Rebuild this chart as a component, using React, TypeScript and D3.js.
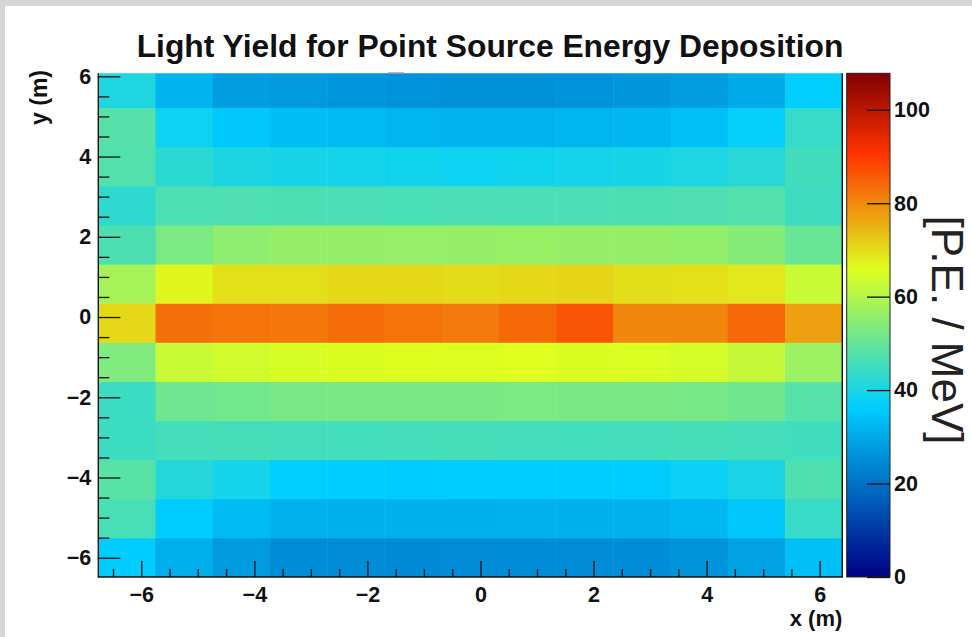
import { useEffect, useRef } from 'react'
import * as d3 from 'd3'

// bin layout of the 2D histogram (metres)
const xFirstEdge = -6.76
const xBinWidth = 1.0122
const yFirstEdge = -6.48
const yBinWidth = 0.975
const xRange = [-6.76, 6.40]
const yRange = [-6.48, 6.075]
const zRange = [0, 107.8]

// light yield per bin [P.E./MeV], rows listed from bottom (y ~ -6 m) to top (y ~ 5.7 m)
const lyRow12 = [40.7, 31.9, 28.0, 27.2, 26.6, 25.9, 25.6, 25.6, 26.0, 26.8, 27.8, 30.3, 36.9]
const lyRow11 = [47.8, 38.4, 35.4, 33.8, 32.9, 32.2, 31.9, 31.9, 32.2, 32.4, 34.0, 37.2, 43.7]
const lyRow10 = [47.4, 42.2, 40.5, 39.7, 39.3, 38.8, 38.5, 38.8, 39.3, 39.8, 40.6, 41.9, 45.3]
const lyRow9 = [42.8, 46.7, 46.9, 46.6, 46.5, 46.4, 46.5, 46.5, 46.5, 46.6, 46.9, 47.4, 44.8]
const lyRow8 = [46.6, 52.9, 55.4, 56.3, 56.3, 56.4, 56.3, 56.6, 56.3, 56.3, 56.0, 54.2, 50.3]
const lyRow7 = [58.4, 67.0, 69.5, 69.6, 70.5, 70.5, 70.1, 70.5, 71.0, 69.8, 69.5, 68.6, 62.9]
const lyRow6 = [70.5, 83.1, 82.7, 82.2, 83.6, 82.7, 81.9, 84.1, 86.5, 80.2, 80.2, 84.1, 77.3]
const lyRow5 = [53.4, 62.9, 63.9, 65.0, 65.4, 65.6, 65.5, 65.7, 65.4, 65.3, 64.5, 62.3, 57.1]
const lyRow4 = [44.5, 51.1, 51.6, 52.4, 52.6, 52.7, 52.6, 52.8, 52.6, 52.5, 52.3, 51.3, 47.9]
const lyRow3 = [44.5, 45.6, 45.7, 45.6, 45.5, 45.6, 45.7, 45.6, 45.5, 45.6, 45.7, 45.6, 45.0]
const lyRow2 = [48.2, 41.6, 39.3, 36.4, 36.1, 36.0, 36.1, 36.2, 36.1, 36.3, 38.0, 40.0, 47.0]
const lyRow1 = [46.1, 36.1, 32.9, 31.4, 31.2, 31.1, 31.2, 31.3, 31.2, 31.4, 32.6, 35.4, 44.0]
const lyRow0 = [36.1, 30.8, 27.4, 25.0, 24.8, 24.7, 24.8, 24.9, 24.8, 25.0, 26.2, 28.7, 34.0]
const lyRows = [lyRow0, lyRow1, lyRow2, lyRow3, lyRow4, lyRow5, lyRow6, lyRow7, lyRow8, lyRow9, lyRow10, lyRow11, lyRow12]

const xMajorTicks = [-6, -4, -2, 0, 2, 4, 6]
const yMajorTicks = [-6, -4, -2, 0, 2, 4, 6]
const zTicks = [0, 20, 40, 60, 80, 100]

const title = 'Light Yield for Point Source Energy Deposition'
const xTitle = 'x (m)'
const yTitle = 'y (m)'
const zTitle = '[P.E. / MeV]'

// ROOT style 5-stop rainbow palette
const paletteStops = [0, 0.34, 0.61, 0.84, 1]
const paletteColors = ['rgb(0,0,130)', 'rgb(0,207,255)', 'rgb(222,255,31)', 'rgb(255,51,0)', 'rgb(130,0,0)']

const W = 972
const H = 637
const FONT = '"Liberation Sans", Arial, Helvetica, sans-serif'

const App = () => {
    const ref = useRef<SVGSVGElement>(null)

    useEffect(() => {
        const svg = d3.select(ref.current)
        svg.selectAll('*').remove()

        const left = 98.3, right = 842.3, top = 73.3, bottom = 577

        const x = d3.scaleLinear().domain(xRange).range([left, right])
        const y = d3.scaleLinear().domain(yRange).range([bottom, top])
        const z = d3.scaleLinear<string>()
            .domain(paletteStops.map(t => zRange[0] + t * (zRange[1] - zRange[0])))
            .range(paletteColors)
            .interpolate(d3.interpolateRgb)
            .clamp(true)

        svg.append('rect').attr('width', W).attr('height', H).attr('fill', '#d6d6d6')
        svg.append('rect').attr('x', 5).attr('y', 6).attr('width', W - 5).attr('height', H - 6).attr('fill', '#fff')

        const defs = svg.append('defs')
        defs.append('clipPath').attr('id', 'plot-clip')
            .append('rect').attr('x', left).attr('y', top).attr('width', right - left).attr('height', bottom - top)

        // cells
        const cells = lyRows.flatMap((row, j) => row.map((v, i) => ({ i, j, v })))
        svg.append('g').attr('clip-path', 'url(#plot-clip)')
            .selectAll('rect')
            .data(cells)
            .enter()
            .append('rect')
            .attr('x', d => x(xFirstEdge + d.i * xBinWidth))
            .attr('width', d => x(xFirstEdge + (d.i + 1) * xBinWidth) - x(xFirstEdge + d.i * xBinWidth) + 0.5)
            .attr('y', d => y(yFirstEdge + (d.j + 1) * yBinWidth))
            .attr('height', d => y(yFirstEdge + d.j * yBinWidth) - y(yFirstEdge + (d.j + 1) * yBinWidth) + 0.5)
            .attr('fill', d => z(d.v))

        // small leftover mark at the top of the frame
        svg.append('rect').attr('x', 388).attr('y', 72.3).attr('width', 16).attr('height', 1.6).attr('fill', '#9a9a9a')

        const xMinor = d3.range(-6.5, 6.5, 0.5).filter(v => !xMajorTicks.includes(v))
        const yMinor = d3.range(-6, 6.01, 0.5).filter(v => !yMajorTicks.includes(v))

        const styleAxis = (g: any) => {
            g.select('.domain').remove()
            g.selectAll('line').attr('stroke', '#111').attr('stroke-width', 1.3)
            g.selectAll('text').attr('fill', '#111').attr('font-family', FONT)
                .attr('font-weight', 'bold').attr('font-size', 21.5)
        }

        svg.append('g').attr('transform', `translate(0,${bottom})`)
            .call(d3.axisBottom(x).tickValues(xMinor).tickSize(-8).tickFormat(() => ''))
            .call(styleAxis)
        svg.append('g').attr('transform', `translate(0,${bottom})`)
            .call(d3.axisBottom(x).tickValues(xMajorTicks).tickSize(-16).tickPadding(10))
            .call(styleAxis)
        svg.append('g').attr('transform', `translate(${left},0)`)
            .call(d3.axisLeft(y).tickValues(yMinor).tickSize(-11).tickFormat(() => ''))
            .call(styleAxis)
        svg.append('g').attr('transform', `translate(${left},0)`)
            .call(d3.axisLeft(y).tickValues(yMajorTicks).tickSize(-22).tickPadding(7))
            .call(styleAxis)

        // frame lines
        svg.append('line').attr('x1', left).attr('x2', left).attr('y1', top).attr('y2', bottom + 0.7)
            .attr('stroke', '#111').attr('stroke-width', 1.4)
        svg.append('line').attr('x1', left).attr('x2', right + 0.7).attr('y1', bottom).attr('y2', bottom)
            .attr('stroke', '#111').attr('stroke-width', 1.4)
        svg.append('line').attr('x1', right).attr('x2', right).attr('y1', top).attr('y2', bottom)
            .attr('stroke', '#111').attr('stroke-width', 1.4)

        // colour bar
        const cbLeft = 846.7, cbRight = 890
        const grad = defs.append('linearGradient').attr('id', 'zgrad')
            .attr('x1', 0).attr('x2', 0).attr('y1', 1).attr('y2', 0)
        paletteStops.forEach((t, k) => {
            grad.append('stop').attr('offset', t).attr('stop-color', paletteColors[k])
        })
        svg.append('rect').attr('x', cbLeft).attr('y', top).attr('width', cbRight - cbLeft).attr('height', bottom - top)
            .attr('fill', 'url(#zgrad)').attr('stroke', '#222').attr('stroke-width', 1)

        const zAxisScale = d3.scaleLinear().domain(zRange).range([bottom, top])
        svg.append('g').attr('transform', `translate(${cbRight},0)`)
            .call(d3.axisRight(zAxisScale).tickValues(zTicks).tickSize(-23).tickPadding(4))
            .call(styleAxis)

        // titles
        svg.append('text').attr('x', 490).attr('y', 57).attr('text-anchor', 'middle')
            .attr('font-family', FONT).attr('font-weight', 'bold').attr('font-size', 31.8).attr('fill', '#111')
            .text(title)
        svg.append('text').attr('x', right).attr('y', 626).attr('text-anchor', 'end')
            .attr('font-family', FONT).attr('font-weight', 'bold').attr('font-size', 22).attr('fill', '#111')
            .text(xTitle)
        svg.append('text').attr('transform', `translate(47,70) rotate(-90)`).attr('text-anchor', 'end')
            .attr('font-family', FONT).attr('font-weight', 'bold').attr('font-size', 23).attr('fill', '#111')
            .text(yTitle)
        svg.append('text').attr('transform', `translate(932,330) rotate(90)`).attr('text-anchor', 'middle')
            .attr('font-family', FONT).attr('font-size', 44).attr('fill', '#222')
            .text(zTitle)
    }, [])

    return (
        <div>
            <style>{'body{margin:0}'}</style>
            <svg ref={ref} width={W} height={H} style={{ display: 'block' }}></svg>
        </div>
    )
}

export default App
